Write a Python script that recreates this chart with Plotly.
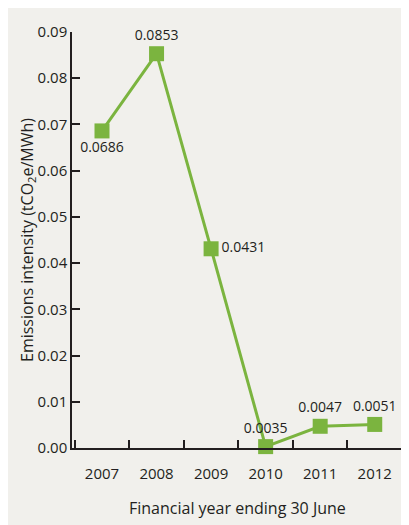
import plotly.graph_objects as go

years = ["2007", "2008", "2009", "2010", "2011", "2012"]
intensity = [0.0686, 0.0853, 0.0431, 0.0003, 0.0047, 0.0051]
labels = ["0.0686", "0.0853", "0.0431", "0.0035", "0.0047", "0.0051"]
label_pos = ["bottom center", "top center", "middle right", "top center", "top center", "top center"]
y_ticks = [0.00, 0.01, 0.02, 0.03, 0.04, 0.05, 0.06, 0.07, 0.08, 0.09]
y_tick_text = ["0.00", "0.01", "0.02", "0.03", "0.04", "0.05", "0.06", "0.07", "0.08", "0.09"]

GREEN = "#7bb43f"
TEXT = "#231f20"
BG = "#f1f0ec"
FONT = "Open Sans"

# page offset of 8px (body margin) is compensated by a smaller figure
L, T, PW, PH = 64, 24, 330, 416

fig = go.Figure()
fig.add_trace(go.Scatter(
    x=years, y=intensity,
    mode="lines+markers+text",
    line=dict(color=GREEN, width=3),
    marker=dict(symbol="square", size=15, color=GREEN),
    text=labels, textposition=label_pos,
    textfont=dict(family=FONT, size=14, color=TEXT),
    cliponaxis=False,
    showlegend=False,
))

fig.update_layout(
    width=401, height=517,
    margin=dict(l=L, r=401 - L - PW, t=T, b=517 - T - PH),
    paper_bgcolor=BG,
    plot_bgcolor=BG,
    font=dict(family=FONT, size=14, color=TEXT),
    xaxis=dict(
        type="category", range=[-0.55, 5.5],
        showline=True, linecolor=TEXT, linewidth=1.5,
        ticks="inside", tickson="boundaries", ticklen=8, tickcolor=TEXT, tickwidth=1.5,
        showgrid=False, zeroline=False,
        ticklabelstandoff=11,
        tickfont=dict(family=FONT, size=15, color=TEXT),
    ),
    yaxis=dict(
        range=[0, 0.09], tickvals=y_ticks, ticktext=y_tick_text,
        showline=True, linecolor=TEXT, linewidth=1.5,
        ticks="inside", ticklen=8, tickcolor=TEXT, tickwidth=1.5,
        showgrid=False, zeroline=False,
        tickfont=dict(family=FONT, size=15, color=TEXT),
    ),
    annotations=[
        dict(text="Financial year ending 30 June", xref="paper", yref="paper",
             x=(237 - 72) / PW, y=-(508 - 448) / PH, xanchor="center", yanchor="middle",
             showarrow=False, font=dict(family=FONT, size=16, color=TEXT)),
        dict(text="Emissions intensity (tCO<sub>2</sub>e/MWh)", xref="paper", yref="paper",
             x=-(72 - 27) / PW, y=(448 - 240) / PH, xanchor="center", yanchor="middle",
             textangle=-90, showarrow=False, font=dict(family=FONT, size=16, color=TEXT)),
    ],
)

fig.write_html("out.html")
